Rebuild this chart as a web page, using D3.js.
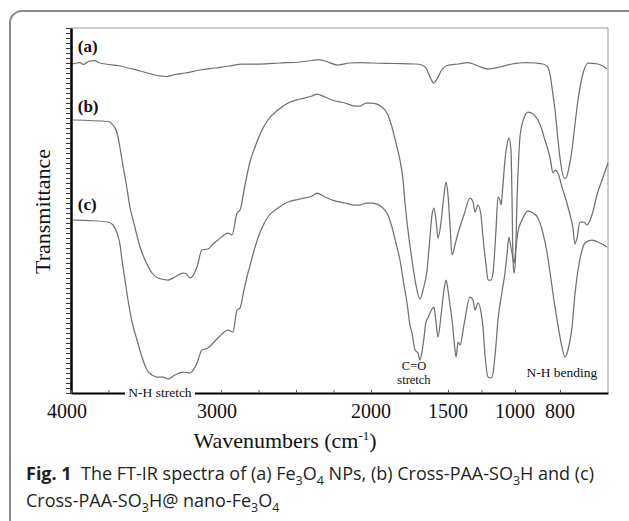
<!DOCTYPE html>
<html>
<head>
<meta charset="utf-8">
<script src="https://cdn.jsdelivr.net/npm/d3@7"></script>
<style>
  html, body { margin: 0; padding: 0; background: #fff; }
  svg { display: block; }
</style>
</head>
<body>
<div id="chart"></div>
<script>
// --- data: [wavenumber cm-1, transmittance (a.u.)] ---
const xTickValues = [4000, 3000, 2000, 1500, 1000, 800];
const xMinorTicks = [3750, 3500, 3250, 2750, 2500, 2250, 1750, 1250];

const spectrumA = [
  [3993,65.8],[3940,66.1],[3918,65.7],[3885,66.3],[3840,66.5],[3818,66.1],[3673,65.4],
  [3540,64.4],[3440,63.6],[3360,63.3],[3307,63.7],[3240,64.0],[3140,64.6],[3040,65.0],
  [2940,65.4],[2860,65.8],[2740,65.8],[2607,66.0],[2473,66.2],[2393,66.5],[2353,66.7],
  [2307,66.4],[2220,65.6],[2140,66.0],[2060,66.1],[1994,66.0],[1844,65.9],[1714,65.8],
  [1669,65.6],[1636,64.6],[1617,63.2],[1594,62.0],[1571,62.8],[1545,64.4],[1506,65.5],
  [1425,65.8],[1351,66.1],[1276,65.4],[1201,64.8],[1112,65.2],[1022,65.8],[956,66.1],
  [911,66.0],[876,65.8],[858,65.4],[844,63.6],[831,59.6],[822,56.6],[809,50.6],[796,45.6],
  [783,43.0],[775,43.0],[763,45.0],[750,48.6],[738,53.6],[725,58.6],[708,63.2],[683,66.0],
  [642,65.8],[604,64.8]
];

const spectrumB = [
  [3987,54.6],[3753,54.3],[3720,53.6],[3693,52.0],[3673,49.0],[3660,46.6],[3633,42.0],
  [3607,37.2],[3573,33.0],[3540,29.2],[3500,26.2],[3460,24.0],[3420,23.0],[3353,22.6],
  [3307,23.2],[3253,24.0],[3233,23.9],[3207,23.0],[3180,23.8],[3160,25.2],[3127,28.6],
  [3087,28.8],[3053,29.8],[3020,30.6],[2953,32.0],[2927,31.6],[2893,36.0],[2873,36.6],
  [2840,41.6],[2807,46.2],[2773,49.2],[2733,52.2],[2687,54.6],[2620,56.6],[2553,58.0],
  [2473,58.8],[2393,59.4],[2360,59.8],[2307,59.2],[2260,58.6],[2173,58.0],[2107,57.4],
  [2073,57.4],[2033,58.0],[1994,58.0],[1929,57.2],[1890,55.6],[1864,53.2],[1838,50.0],
  [1812,46.6],[1792,42.6],[1779,38.0],[1760,32.6],[1734,26.6],[1708,21.6],[1682,18.8],
  [1662,20.6],[1636,24.6],[1617,31.2],[1604,35.6],[1591,37.0],[1578,34.6],[1565,31.0],
  [1545,34.2],[1526,39.6],[1513,42.2],[1500,39.6],[1485,33.6],[1470,27.6],[1448,29.6],
  [1425,32.0],[1381,35.6],[1336,39.0],[1313,38.2],[1299,36.2],[1276,37.6],[1254,35.6],
  [1239,31.2],[1216,25.6],[1201,22.6],[1179,22.6],[1164,24.0],[1142,32.6],[1127,39.2],
  [1112,38.6],[1104,37.6],[1090,41.6],[1075,46.6],[1060,49.6],[1045,51.0],[1030,48.6],
  [1022,38.6],[1015,26.6],[1007,24.0],[998,26.6],[991,38.6],[984,46.6],[978,51.2],
  [960,55.0],[942,56.2],[920,55.8],[898,54.6],[880,52.6],[867,50.6],[853,48.6],[844,47.0],
  [831,44.0],[822,44.6],[809,44.0],[792,41.2],[775,38.6],[758,35.6],[746,33.0],[738,29.8],
  [729,31.0],[717,34.2],[700,34.2],[688,33.6],[667,35.6],[646,39.6],[625,42.6],[600,46.0]
];

const spectrumC = [
  [3987,34.6],[3753,34.2],[3720,33.6],[3693,32.0],[3673,29.6],[3660,26.6],[3640,22.6],
  [3620,18.6],[3593,14.2],[3560,10.6],[3527,7.2],[3493,4.6],[3460,3.6],[3427,3.2],
  [3387,3.2],[3353,2.8],[3307,3.6],[3253,4.2],[3207,4.0],[3180,4.8],[3160,6.0],[3127,8.6],
  [3087,9.0],[3053,10.0],[3020,11.0],[2953,12.6],[2920,12.2],[2893,16.6],[2873,17.0],
  [2847,20.6],[2827,23.2],[2800,26.2],[2773,29.2],[2733,32.6],[2687,35.2],[2620,37.0],
  [2553,38.2],[2473,38.8],[2393,39.4],[2360,40.0],[2307,39.2],[2260,38.6],[2173,38.0],
  [2107,37.6],[2073,37.6],[2033,38.0],[1994,38.0],[1929,37.2],[1890,35.6],[1864,33.2],
  [1838,30.0],[1812,26.6],[1786,21.6],[1766,18.0],[1747,13.6],[1734,12.0],[1714,8.6],
  [1695,8.0],[1682,6.6],[1669,8.2],[1656,11.0],[1643,14.2],[1630,15.0],[1617,16.0],
  [1604,16.8],[1591,17.2],[1578,14.2],[1565,11.2],[1545,15.6],[1526,20.6],[1513,22.6],
  [1500,20.6],[1485,17.6],[1470,14.6],[1455,10.6],[1440,7.2],[1425,10.2],[1410,9.6],
  [1381,13.6],[1336,19.2],[1313,18.6],[1299,16.6],[1276,18.0],[1254,16.2],[1239,13.2],
  [1224,7.6],[1201,3.2],[1179,3.0],[1164,4.0],[1142,9.6],[1127,14.6],[1097,20.2],
  [1075,24.0],[1060,27.6],[1045,31.2],[1030,29.0],[1022,28.0],[1007,26.0],[996,29.0],
  [987,32.2],[969,34.6],[942,36.4],[920,36.0],[898,35.0],[876,32.0],[858,28.2],[844,24.0],
  [827,18.6],[813,14.6],[796,10.2],[779,7.2],[767,8.6],[750,13.2],[738,19.6],[725,24.6],
  [708,28.6],[696,30.0],[667,30.6],[633,30.0],[604,29.2]
];

const seriesLabels = [
  { text: "(a)", w: 3955, t: 68.2 },
  { text: "(b)", w: 3955, t: 56.2 },
  { text: "(c)", w: 3955, t: 36.6 }
];

// didascalia: [testo, "sub" | "bold" | null]
const captionLine1 = [
  ["Fig. 1", "bold"], ["\u00a0 The FT-IR spectra of (a) Fe", null], ["3", "sub"], ["O", null], ["4", "sub"],
  [" NPs, (b) Cross-PAA-SO", null], ["3", "sub"], ["H and (c)", null]
];
const captionLine2 = [
  ["Cross-PAA-SO", null], ["3", "sub"], ["H@ nano-Fe", null], ["3", "sub"], ["O", null], ["4", "sub"]
];

// --- layout ---
const W = 629, H = 521;
const plot = { left: 71, right: 608, top: 28, bottom: 393 };
const serif = "'Liberation Serif', 'Times New Roman', serif";
const sans = "'Open Sans', 'Noto Sans', sans-serif";

const svg = d3.select("#chart").append("svg")
  .attr("width", W).attr("height", H);

// carta con bordo arrotondato (tagliata a destra e in basso)
svg.append("rect")
  .attr("x", 10).attr("y", 11)
  .attr("width", 632).attr("height", 520)
  .attr("rx", 12)
  .attr("fill", "#fff")
  .attr("stroke", "#8a8a8a")
  .attr("stroke-width", 2);

// scale: asse x non uniforme come nell'originale
const x = d3.scaleLinear()
  .domain([4000, 2000, 1500, 1000, 800, 600])
  .range([plot.left, 371, 448, 515, 560, plot.right]);

const y = d3.scaleLinear()
  .domain([0, 73])
  .range([plot.bottom, plot.top]);

// cornice sottile (sopra e destra)
svg.append("path")
  .attr("d", `M${plot.left},${plot.top}H${plot.right}V${plot.bottom}`)
  .attr("fill", "none")
  .attr("stroke", "#9a9a9a")
  .attr("stroke-width", 1);

// spettri
const line = d3.line()
  .x(d => x(d[0]))
  .y(d => y(d[1]))
  .curve(d3.curveMonotoneX);

[spectrumA, spectrumB, spectrumC].forEach(s => {
  svg.append("path")
    .datum(s)
    .attr("d", line)
    .attr("fill", "none")
    .attr("stroke", "#707070")
    .attr("stroke-width", 1.25)
    .attr("stroke-linejoin", "round");
});

// asse y (solo tacche)
const yAxis = svg.append("g")
  .attr("transform", `translate(${plot.left},0)`)
  .call(d3.axisLeft(y).tickValues(d3.range(0, 73.5, 1)).tickSize(5).tickSizeOuter(0).tickFormat(""));
yAxis.select(".domain").attr("stroke", "#000").attr("stroke-width", 2.5);
yAxis.selectAll(".tick line").attr("stroke", "#333").attr("stroke-width", 1);

// asse x
const xAxis = svg.append("g")
  .attr("transform", `translate(0,${plot.bottom})`)
  .call(d3.axisBottom(x).tickValues(xTickValues.concat(xMinorTicks)).tickSize(-3).tickSizeOuter(0).tickFormat(""));
xAxis.select(".domain").attr("stroke", "#000").attr("stroke-width", 2);
xAxis.selectAll(".tick line").attr("stroke", "#555");

svg.append("g").selectAll("text")
  .data(xTickValues)
  .enter().append("text")
  .attr("x", d => x(d) + (d >= 3000 ? -4 : 0))
  .attr("y", 418)
  .attr("text-anchor", "middle")
  .style("font-family", serif)
  .style("font-size", "20px")
  .attr("fill", "#111")
  .text(d => d);

// etichette serie
svg.append("g").selectAll("text")
  .data(seriesLabels)
  .enter().append("text")
  .attr("x", d => x(d.w))
  .attr("y", d => y(d.t))
  .style("font-family", serif)
  .style("font-size", "17px")
  .style("font-weight", "bold")
  .attr("fill", "#111")
  .text(d => d.text);

// annotazioni
const nh = svg.append("g");
nh.append("rect")
  .attr("x", x(3407) - 35).attr("y", plot.bottom - 3)
  .attr("width", 70).attr("height", 6)
  .attr("fill", "#fff");
nh.append("text")
  .attr("x", x(3407)).attr("y", 397)
  .attr("text-anchor", "middle")
  .style("font-family", serif).style("font-size", "13.5px")
  .attr("fill", "#111")
  .text("N-H stretch");

svg.append("text")
  .attr("x", x(1721)).attr("y", 370)
  .attr("text-anchor", "middle")
  .style("font-family", serif).style("font-size", "12.5px")
  .attr("fill", "#111")
  .text("C=O");
svg.append("text")
  .attr("x", x(1721)).attr("y", 384)
  .attr("text-anchor", "middle")
  .style("font-family", serif).style("font-size", "12.5px")
  .attr("fill", "#111")
  .text("stretch");

svg.append("text")
  .attr("x", x(792)).attr("y", 377)
  .attr("text-anchor", "middle")
  .style("font-family", serif).style("font-size", "13.5px")
  .attr("fill", "#111")
  .text("N-H bending");

// titoli assi
svg.append("text")
  .attr("transform", `translate(50,${(plot.top + plot.bottom) / 2 + 1}) rotate(-90)`)
  .attr("text-anchor", "middle")
  .style("font-family", serif).style("font-size", "22px")
  .attr("fill", "#111")
  .text("Transmittance");

const xt = svg.append("text")
  .attr("x", 285).attr("y", 448)
  .attr("text-anchor", "middle")
  .style("font-family", serif).style("font-size", "22px")
  .attr("fill", "#111");
xt.append("tspan").text("Wavenumbers (cm");
xt.append("tspan").attr("dy", -8).style("font-size", "13px").text("-1");
xt.append("tspan").attr("dy", 8).text(")");

// didascalia
function caption(parts, yPos) {
  const t = svg.append("text")
    .attr("x", 26).attr("y", yPos)
    .style("font-family", sans).style("font-size", "18px")
    .attr("fill", "#231f20");
  let shifted = false;
  parts.forEach(([s, kind]) => {
    const sp = t.append("tspan").text(s);
    if (kind === "sub") {
      sp.attr("dy", shifted ? 0 : 5).style("font-size", "12.5px");
      shifted = true;
    } else {
      if (shifted) sp.attr("dy", -5);
      shifted = false;
      if (kind === "bold") sp.style("font-weight", "bold");
    }
  });
}
caption(captionLine1, 480);
caption(captionLine2, 507);
</script>
</body>
</html>
